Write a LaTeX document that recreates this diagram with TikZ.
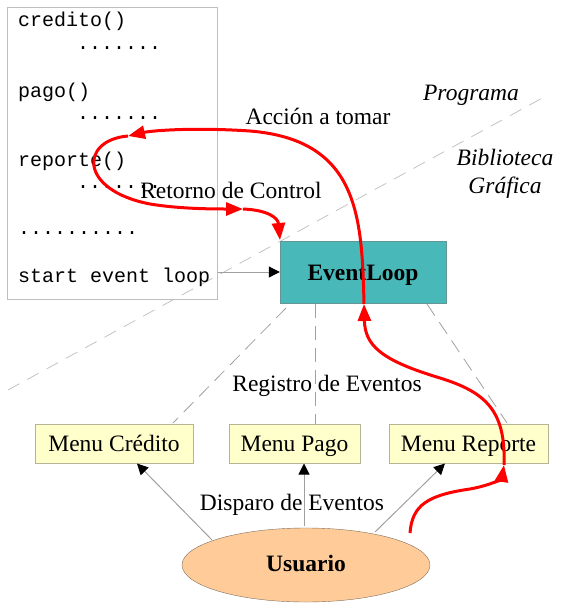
\documentclass[tikz,border=0pt]{standalone}
\usepackage{fontspec}
\setmainfont{Liberation Serif}
\setmonofont{Liberation Mono}
\usetikzlibrary{arrows.meta,shapes.geometric}
\definecolor{loopfill}{RGB}{72,184,184}
\definecolor{loopdraw}{RGB}{100,150,150}
\definecolor{menufill}{RGB}{255,255,204}
\definecolor{menudraw}{RGB}{180,180,150}
\definecolor{userfill}{RGB}{255,204,153}
\definecolor{userdraw}{RGB}{130,110,90}
\definecolor{boxdraw}{RGB}{190,190,190}
\definecolor{linegray}{RGB}{160,160,160}
\definecolor{diaggray}{RGB}{195,195,195}
\begin{document}
\begin{tikzpicture}[x=1pt,y=-1pt,
  lbl/.style={font=\fontsize{23.5}{28}\selectfont, inner sep=0, anchor=base},
  itl/.style={lbl, font=\fontsize{23.5}{28}\selectfont\itshape},
  codeline/.style={font=\ttfamily\fontsize{20}{24}\selectfont, anchor=base west, inner sep=0},
  menu/.style={draw=menudraw, fill=menufill, minimum height=39pt, inner sep=0,
    text height=16pt, text depth=1pt, font=\fontsize{23.5}{28}\selectfont},
  redarrow/.style={draw=red, line width=3pt, -{Triangle[length=17pt,width=13pt]}},
  grayarrow/.style={draw=linegray, line width=1pt, -{Triangle[length=11pt,width=11pt,color=black]}},
  dashline/.style={draw=linegray, line width=0.8pt, dash pattern=on 14pt off 8pt},
  diagline/.style={draw=diaggray, line width=0.8pt, dash pattern=on 13pt off 9pt}
]
\useasboundingbox (0,0) rectangle (560,608);

% separator line
\coordinate (d1) at (8,390);
\coordinate (d2) at (546,96);
\draw[diagline] (d1) -- (d2);

% code box
\node[draw=boxdraw, line width=1pt, minimum width=210pt, minimum height=292pt, inner sep=0] (code) at (112,153) {};
\node[codeline] (c1) at (18,26) {credito()};
\node[codeline] (c2) at (77,49) {.......};
\node[codeline] (c3) at (18,97) {pago()};
\node[codeline] (c4) at (77,119) {.......};
\node[codeline] (c5) at (18,166) {reporte()};
\node[codeline] (c6) at (77,188) {.......};
\node[codeline] (c7) at (18,234) {..........};
\node[codeline] (c8) at (18,282) {start event loop};

% event loop
\node[draw=loopdraw, fill=loopfill, minimum width=166pt, minimum height=62pt, inner sep=0,
  text height=16pt, text depth=0pt, font=\fontsize{23.5}{28}\selectfont\bfseries] (loop) at (363,272) {EventLoop};

% menus
\node[menu, minimum width=158pt] (mc) at (114,443.5) {Menu Crédito};
\node[menu, minimum width=131pt] (mp) at (294.5,443.5) {Menu Pago};
\node[menu, minimum width=159pt] (mr) at (468.5,443.5) {Menu Reporte};

% user
\node[ellipse, draw=userdraw, fill=userfill, minimum width=248pt, minimum height=74pt, inner sep=0,
  text height=16pt, text depth=4pt, font=\fontsize{23.5}{28}\selectfont\bfseries] (user) at (306,565) {Usuario};

% labels
\node[itl] (prog) at (471,100) {Programa};
\node[itl] (bib) at (505,165) {Biblioteca};
\node[itl] (graf) at (505,193) {Gráfica};
\node[lbl] (accion) at (318,124) {Acción a tomar};
\node[lbl] (retorno) at (231,198) {Retorno de Control};
\node[lbl] (registro) at (327,391) {Registro de Eventos};
\node[lbl] (disparo) at (292,510) {Disparo de Eventos};

% code -> loop
\draw[grayarrow] (code.east |- loop.west) -- (loop.west);

% registration lines
\coordinate (r1a) at (286,308);
\coordinate (r1b) at (173,423);
\coordinate (r2a) at (315,304);
\coordinate (r2b) at (315,424);
\coordinate (r3a) at (427,304);
\coordinate (r3b) at (507,423);
\draw[dashline] (r1a) -- (r1b);
\draw[dashline] (r2a) -- (r2b);
\draw[dashline] (r3a) -- (r3b);

% user -> menus
\coordinate (u1) at (212,540);
\coordinate (u2) at (304,526);
\coordinate (u3) at (375,532);
\coordinate (t1) at (137,463.5);
\coordinate (t2) at (304,463.5);
\coordinate (t3) at (445,463.5);
\draw[grayarrow] (u1) -- (t1);
\draw[grayarrow] (u2) -- (t2);
\draw[grayarrow] (u3) -- (t3);

% red flow
\coordinate (a0) at (410,533);
\coordinate (a1) at (504,465);
\coordinate (a2) at (364,304);
\coordinate (a3) at (128,136);
\coordinate (a4) at (243,209);
\coordinate (a5) at (280,240);
\draw[redarrow] (a0) .. controls (412,505) and (428,495) .. (470,489)
  .. controls (492,485) and (502,478) .. (a1);
\draw[redarrow] (a1) .. controls (506,410) and (485,392) .. (440,378)
  .. controls (380,360) and (365,345) .. (a2);
\draw[redarrow] (a2) .. controls (362,215) and (358,140) .. (250,131)
  .. controls (190,127) and (150,131) .. (a3);
\draw[redarrow] (a3) .. controls (80,140) and (78,190) .. (150,204)
  .. controls (180,209) and (215,209) .. (a4);
\draw[redarrow] (a4) .. controls (268,210) and (278,218) .. (a5);
\end{tikzpicture}
\end{document}
